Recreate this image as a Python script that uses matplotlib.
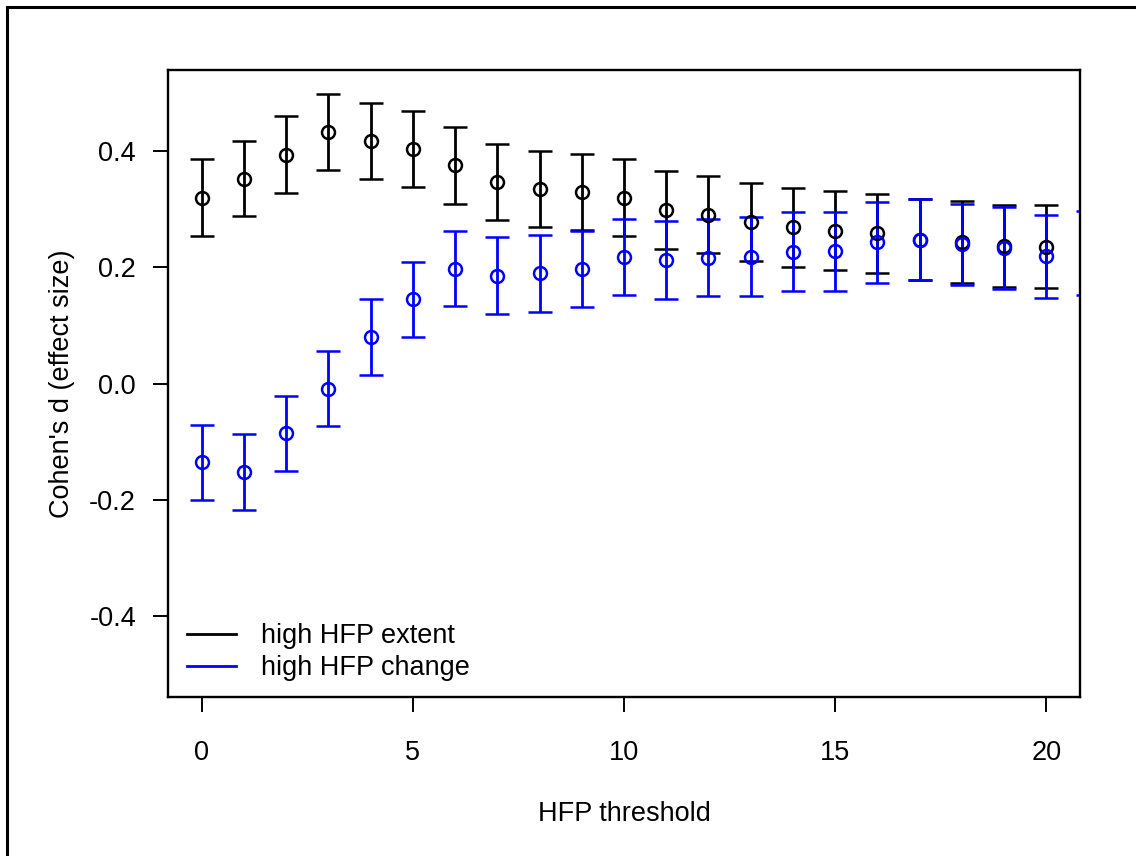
import matplotlib
matplotlib.use("Agg")
import matplotlib.pyplot as plt
from matplotlib.lines import Line2D

plt.rcParams['font.family'] = ['Liberation Sans', 'DejaVu Sans']
plt.rcParams['axes.unicode_minus'] = False

# effect sizes per HFP threshold, with half-width of the interval
thresholds_extent = list(range(0, 21))
d_extent = [0.320, 0.353, 0.394, 0.433, 0.418, 0.404, 0.376, 0.347, 0.335, 0.330,
            0.320, 0.299, 0.291, 0.278, 0.269, 0.263, 0.259, 0.248, 0.244, 0.237, 0.236]
err_extent = [0.066, 0.065, 0.066, 0.066, 0.066, 0.066, 0.066, 0.066, 0.066, 0.066,
              0.066, 0.067, 0.066, 0.067, 0.068, 0.068, 0.068, 0.069, 0.070, 0.070, 0.071]

thresholds_change = list(range(0, 22))
d_change = [-0.136, -0.152, -0.086, -0.009, 0.080, 0.145, 0.198, 0.186, 0.190, 0.197,
            0.218, 0.213, 0.217, 0.218, 0.227, 0.228, 0.243, 0.248, 0.240, 0.233, 0.219, 0.225]
err_change = [0.065, 0.065, 0.065, 0.065, 0.065, 0.065, 0.065, 0.066, 0.066, 0.066,
              0.066, 0.067, 0.067, 0.068, 0.068, 0.068, 0.069, 0.070, 0.070, 0.071, 0.071, 0.072]

fig = plt.figure(figsize=(11.36, 8.56), dpi=100)
ax = fig.add_axes([0.1479, 0.1857, 0.8028, 0.7325])

common = dict(fmt='o', markersize=9.3, markerfacecolor='none', markeredgewidth=1.8,
              elinewidth=2.0, capsize=8.6, capthick=2.0, clip_on=True)
ax.errorbar(thresholds_extent, d_extent, yerr=err_extent, color='black', **common)
ax.errorbar(thresholds_change, d_change, yerr=err_change, color='#0000ff', **common)

ax.set_xlim(-0.8, 20.8)
ax.set_ylim(-0.54, 0.54)
ax.set_xticks([0, 5, 10, 15, 20])
ax.set_yticks([-0.4, -0.2, 0.0, 0.2, 0.4])
ax.set_yticklabels(['-0.4', '-0.2', '0.0', '0.2', '0.4'])
ax.tick_params(labelsize=19.5, length=11, width=1.4, direction='out')
ax.tick_params(axis='x', pad=20)
ax.tick_params(axis='y', pad=12)
for sp in ax.spines.values():
    sp.set_linewidth(1.7)

ax.set_xlabel('HFP threshold', fontsize=19.5, labelpad=25)
ax.set_ylabel("Cohen's d (effect size)", fontsize=19.5, labelpad=10)

handles = [Line2D([], [], color='black', lw=2.0), Line2D([], [], color='#0000ff', lw=2.0)]
ax.legend(handles, ['high HFP extent', 'high HFP change'], loc='lower left',
          frameon=False, fontsize=19.5, handlelength=1.8, handletextpad=0.95,
          labelspacing=0.22, borderaxespad=0.3, bbox_to_anchor=(0.0, -0.005))

# outer frame on top and left
W, H = 1136, 856
fig.add_artist(Line2D([7 / W, 1.0], [1 - 7 / H, 1 - 7 / H], color='black', lw=2.2,
                      transform=fig.transFigure))
fig.add_artist(Line2D([7 / W, 7 / W], [1 - 7 / H, 0.0], color='black', lw=2.2,
                      transform=fig.transFigure))

fig.savefig('out.png', dpi=100)
